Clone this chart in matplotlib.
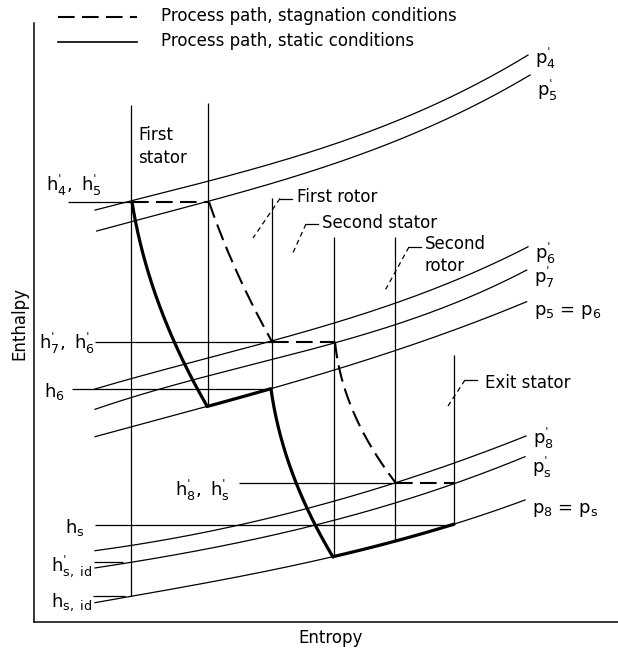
import matplotlib
matplotlib.use("Agg")
import matplotlib.pyplot as plt
import numpy as np

plt.rcParams['font.family'] = ['DejaVu Sans']
plt.rcParams['mathtext.default'] = 'regular'

PR = "\u02c8"  # prime mark

# ---------------- data (entropy s, enthalpy h; arbitrary schematic units) ----------------
isobar_labels = [rf"$p_{{4}}^{{{PR}}}$", rf"$p_{{5}}^{{{PR}}}$", rf"$p_{{6}}^{{{PR}}}$", rf"$p_{{7}}^{{{PR}}}$",
                 r"$p_5$ = $p_6$", rf"$p_{{8}}^{{{PR}}}$", rf"$p_{{s}}^{{{PR}}}$", r"$p_8$ = $p_s$"]
isobar_label_h = [564, 532, 369, 345, 310, 184, 155, 112]
isobar_s = [
    [61, 98, 175, 246, 446, 494],
    [62.7, 175, 246, 446, 496],
    [61, 238, 361, 446, 494],
    [61, 246, 301, 446, 492.7],
    [61, 173, 236.7, 446, 492.7],
    [61, 296, 362, 492],
    [61, 96, 296, 420, 491],
    [61, 96, 299, 361, 420, 491],
]
isobar_h = [
    [412, 420.5, 440.3, 462, 538.7, 567],
    [391, 420, 442, 518.7, 547],
    [233, 280.5, 320.5, 350, 375.3],
    [212.7, 263.7, 280.3, 328.7, 352],
    [185.3, 216, 232.7, 302, 320.3],
    [71.3, 120.3, 138.7, 186],
    [54, 60, 100.3, 138.7, 165.3],
    [19.3, 26, 64.7, 81.3, 98, 122],
]

# static process path: expansions (thick curves) and rotor/stator rows along isobars
static_exp_s = [
    [98, 106, 119, 134, 148, 173],
    [237, 244, 264, 285, 299],
]
static_exp_h = [
    [420, 389, 339, 292, 259, 216],
    [233, 202, 135, 85, 65],
]
static_iso_index = [4, 7]          # p5 = p6, p8 = ps
static_iso_s0 = [173, 299]
static_iso_s1 = [236.7, 420]

# stagnation process path (dashed)
stag_exp_s = [
    [175, 186, 206, 232, 238],
    [301, 312, 321, 346, 362],
]
stag_exp_h = [
    [420, 389, 342, 295, 280.3],
    [280.3, 235.3, 202, 162, 138.7],
]
stag_flat_h = [420, 280.3, 138.7]
stag_flat_s0 = [98, 238, 362]
stag_flat_s1 = [175, 301, 420]

# blade-row boundaries (vertical lines): s, h_low, h_high
row_s = [97, 174, 237.5, 300, 361, 420]
row_h_low = [26, 216, 233, 65, 81.3, 98]
row_h_high = [517, 519, 424, 385, 385, 267]

# enthalpy reference levels
hlev_labels = [rf"$h_{{4}}^{{{PR}}},\ h_{{5}}^{{{PR}}}$", rf"$h_{{7}}^{{{PR}}},\ h_{{6}}^{{{PR}}}$", r"$h_6$",
               rf"$h_{{8}}^{{{PR}}},\ h_{{s}}^{{{PR}}}$", r"$h_s$", rf"$h_{{s,\ id}}^{{{PR}}}$", r"$h_{s,\ id}$"]
hlev_h = [420, 280.3, 233.5, 138.7, 97.5, 60, 26]
hlev_s0 = [34, 61, 38, 205, 61, 60, 59]
hlev_s1 = [98, 238, 237, 362, 420, 89, 91]
hlev_lab_s = [68, 61, 31, 196, 51, 58, 58]
hlev_lab_h = [437, 279, 230, 132, 94, 55, 20]

# blade-row callouts
row_names = ["First rotor", "Second stator", "Second\nrotor", "Exit stator"]
row_text_s = [262.7, 287.7, 391, 451]
row_text_h = [425.3, 399.3, 367, 239.3]
lead_s0 = [246, 272, 375, 431]
lead_h0 = [423.5, 398, 375, 242]
lead_s1 = [219, 258.7, 351.7, 414]
lead_h1 = [384, 368.7, 332.7, 216]

legend_texts = ["Process path, stagnation conditions", "Process path, static conditions"]

# ---------------- drawing ----------------
W, H = 618, 654
fig = plt.figure(figsize=(W / 100, H / 100), dpi=100)
ax = fig.add_axes([34 / W, (H - 622) / H, (W - 34) / W, 599 / H])
ax.set_xlim(0, 584)
ax.set_ylim(0, 599)
for side in ("top", "right"):
    ax.spines[side].set_visible(False)
for side in ("left", "bottom"):
    ax.spines[side].set_linewidth(1.1)
ax.set_xticks([])
ax.set_yticks([])

THIN = 0.9
FS = 12
DASH = (0, (8, 3.5))


def fit_h_of_s(xs, ys):
    xs = np.asarray(xs, float)
    ys = np.asarray(ys, float)
    deg = min(3, len(xs) - 2) if len(xs) > 3 else 2
    w = np.ones_like(xs)
    w[0] = w[-1] = 3
    return np.poly1d(np.polyfit(xs, ys, deg, w=w))


def fit_s_of_h(xs, ys):
    xs = np.asarray(xs, float)
    ys = np.asarray(ys, float)
    w = np.ones_like(ys)
    w[0] = w[-1] = 10
    return np.poly1d(np.polyfit(ys, xs, 2, w=w))


iso_polys = [fit_h_of_s(xs, ys) for xs, ys in zip(isobar_s, isobar_h)]

# isobars
for xs, poly, lab, lh in zip(isobar_s, iso_polys, isobar_labels, isobar_label_h):
    ss = np.linspace(xs[0], xs[-1], 200)
    ax.plot(ss, poly(ss), color="black", lw=THIN)
    ax.text(xs[-1] + 7, lh, lab, fontsize=FS + 1, ha="left", va="center")

# vertical blade-row lines
for s, h0, h1 in zip(row_s, row_h_low, row_h_high):
    ax.plot([s, s], [h0, h1], color="black", lw=THIN, solid_capstyle="butt")

# enthalpy levels
for lab, h, s0, s1, ls_, lh in zip(hlev_labels, hlev_h, hlev_s0, hlev_s1, hlev_lab_s, hlev_lab_h):
    ax.plot([s0, s1], [h, h], color="black", lw=THIN, solid_capstyle="butt")
    ax.text(ls_, lh, lab, fontsize=FS + 1, ha="right", va="center")

# static path (thick)
for xs, ys in zip(static_exp_s, static_exp_h):
    poly = fit_s_of_h(xs, ys)
    hh = np.linspace(ys[0], ys[-1], 200)
    ax.plot(poly(hh), hh, color="black", lw=2.3, solid_capstyle="round")
for idx, s0, s1 in zip(static_iso_index, static_iso_s0, static_iso_s1):
    ss = np.linspace(s0, s1, 100)
    ax.plot(ss, iso_polys[idx](ss), color="black", lw=2.3, solid_capstyle="round")

# stagnation path (dashed)
for xs, ys in zip(stag_exp_s, stag_exp_h):
    poly = fit_s_of_h(xs, ys)
    hh = np.linspace(ys[0], ys[-1], 200)
    ax.plot(poly(hh), hh, color="black", lw=1.5, ls=DASH)
for h, s0, s1 in zip(stag_flat_h, stag_flat_s0, stag_flat_s1):
    ax.plot([s0, s1], [h, h], color="black", lw=1.5, ls=DASH)

# callouts
ax.text(104, 487, "First", fontsize=FS, ha="left", va="center")
ax.text(104, 464, "stator", fontsize=FS, ha="left", va="center")
for name, ts, th, s0, h0, s1, h1 in zip(row_names, row_text_s, row_text_h,
                                        lead_s0, lead_h0, lead_s1, lead_h1):
    ax.text(ts, th, name, fontsize=FS, ha="left", va="center", linespacing=1.35)
    ax.plot([s0, s0 + 12], [h0, h0], color="black", lw=THIN)
    ax.plot([s0, s1], [h0, h1], color="black", lw=THIN, ls=(0, (4, 3)))

# legend
ax.plot([23.5, 103], [605.3, 605.3], color="black", lw=1.5, ls=DASH, clip_on=False)
ax.plot([23.5, 103], [579.7, 579.7], color="black", lw=1.2, clip_on=False)
ax.text(126.7, 606, legend_texts[0], fontsize=FS, ha="left", va="center", clip_on=False)
ax.text(126.7, 580.5, legend_texts[1], fontsize=FS, ha="left", va="center", clip_on=False)

# axis titles
fig.text(19 / W, 1 - 323 / H, "Enthalpy", rotation=90, fontsize=FS, ha="center", va="center")
fig.text(330.5 / W, 1 - 638 / H, "Entropy", fontsize=FS, ha="center", va="center")

fig.savefig("out.png", dpi=100)
